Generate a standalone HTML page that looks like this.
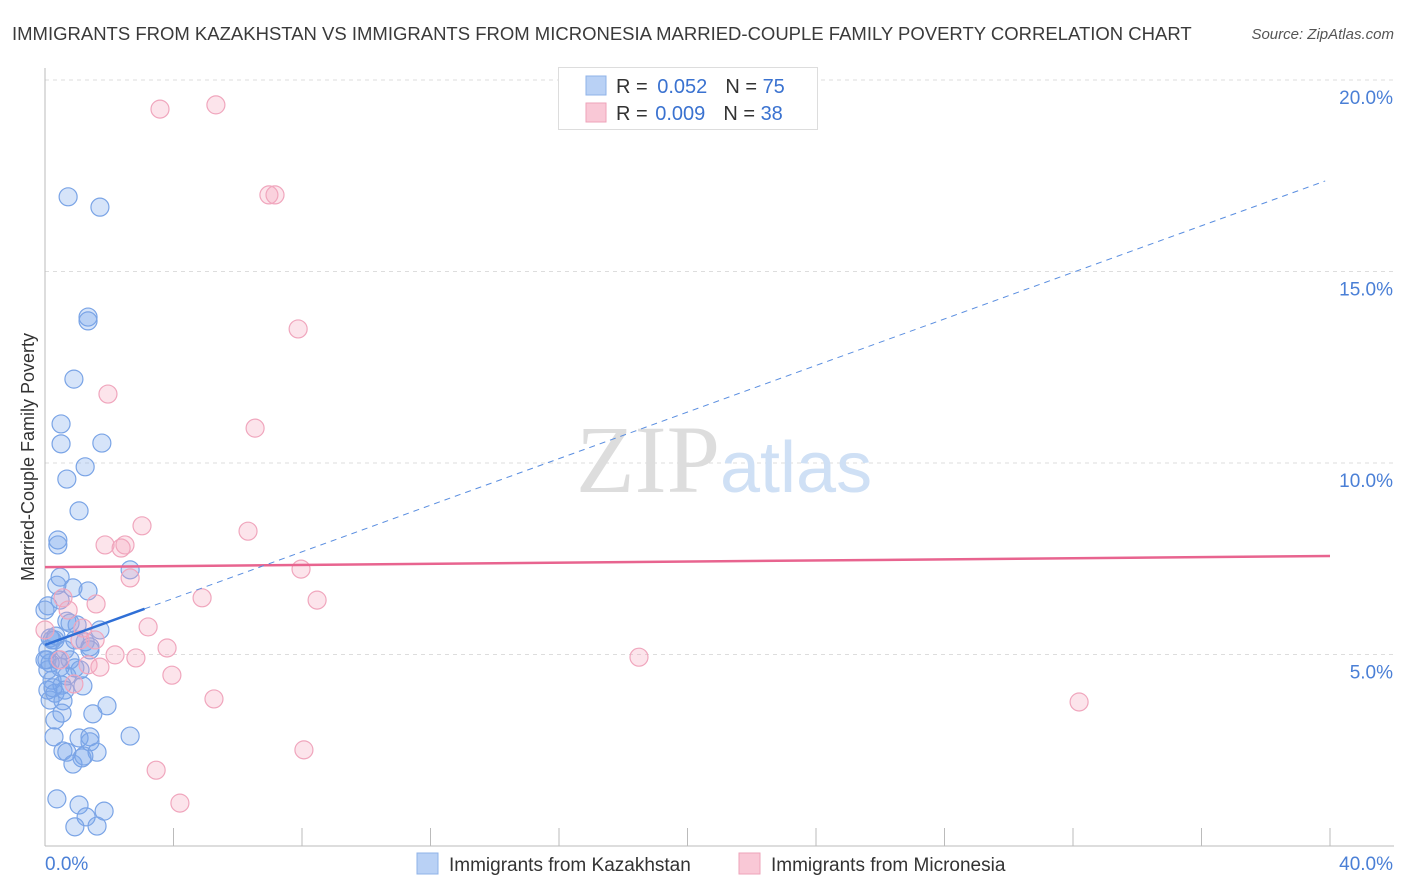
<!DOCTYPE html>
<html><head><meta charset="utf-8"><style>
body{margin:0;background:#fff;font-family:"Liberation Sans",sans-serif;}
#wrap{position:relative;width:1406px;height:892px;overflow:hidden;}
</style></head><body>
<div id="wrap">
<svg id="chart" width="1406" height="892" xmlns="http://www.w3.org/2000/svg">
<text x="12" y="40" font-size="18.5" fill="#3a3a3a">IMMIGRANTS FROM KAZAKHSTAN VS IMMIGRANTS FROM MICRONESIA MARRIED-COUPLE FAMILY POVERTY CORRELATION CHART</text>
<text x="1394" y="39" font-size="15" font-style="italic" fill="#555" text-anchor="end">Source: ZipAtlas.com</text>
<text x="0" y="0" transform="translate(34,457) rotate(-90)" font-size="18" fill="#333" text-anchor="middle">Married-Couple Family Poverty</text>
<g id="grid"></g>
<text x="720" y="492" font-size="96" font-family="Liberation Serif,serif" fill="#ddd" text-anchor="end">ZIP</text>
<text x="720" y="492" font-size="72" fill="#cfe0f5">atlas</text>
<g id="marks"></g>
<g>
<rect x="558.5" y="67.5" width="259" height="62" fill="#fff" stroke="#ddd"/>
<rect x="586" y="76" width="20" height="19" fill="#b9d1f5" stroke="#8fb3e8"/>
<rect x="586" y="103" width="20" height="19" fill="#f9c8d6" stroke="#eea3ba"/>
<text x="616" y="93" font-size="20" fill="#333">R = <tspan fill="#3a72d0" dx="4">0.052</tspan><tspan dx="18">N = </tspan><tspan fill="#3a72d0">75</tspan></text>
<text x="616" y="120" font-size="20" fill="#333">R = <tspan fill="#3a72d0" dx="2">0.009</tspan><tspan dx="18">N = </tspan><tspan fill="#3a72d0">38</tspan></text>
</g>
<g>
<rect x="417" y="853" width="21" height="21" fill="#b9d1f5" stroke="#8fb3e8"/>
<text x="449" y="871" font-size="19" fill="#333">Immigrants from Kazakhstan</text>
<rect x="739" y="853" width="21" height="21" fill="#f9c8d6" stroke="#eea3ba"/>
<text x="771" y="871" font-size="19" fill="#333">Immigrants from Micronesia</text>
</g>
</svg>
</div>
<script>
const blueX=[0.72,1.71,1.34,1.34,0.90,0.50,0.50,1.77,1.25,0.68,1.06,0.40,0.40,2.65,0.47,0.37,0.87,1.34,0.09,0.0,0.68,0.78,1.00,0.34,0.16,0.31,1.25,1.40,0.62,0.06,0.16,0.47,0.93,1.09,0.68,0.22,0.53,1.18,0.09,0.31,0.62,0.16,0.56,1.93,1.49,0.53,0.28,1.06,1.40,2.65,0.56,0.68,1.40,1.62,0.87,1.15,1.21,0.37,1.06,1.28,1.84,0.93,1.62,0.22,0.09,0.40,0.09,0.25,0.78,1.40,1.71,0.47,0.0,0.31,0.93];
const blueY=[16.95,16.68,13.81,13.71,12.19,11.02,10.50,10.52,9.90,9.58,8.75,7.99,7.86,7.21,7.02,6.81,6.74,6.66,6.27,6.16,5.87,5.82,5.77,5.48,5.43,5.38,5.33,5.20,5.12,4.86,4.78,4.67,4.65,4.60,4.44,4.33,4.20,4.18,4.07,3.99,4.07,3.81,3.79,3.66,3.45,3.47,2.85,2.82,2.85,2.87,2.48,2.45,2.72,2.45,2.14,2.30,2.35,1.23,1.07,0.76,0.91,0.50,0.52,5.38,5.12,4.86,4.60,4.13,4.86,5.12,5.64,6.42,4.86,3.29,5.38];
const pinkX=[3.58,5.32,6.97,7.16,7.88,1.96,6.54,3.02,6.32,1.87,2.49,2.37,2.65,7.97,0.56,1.59,4.89,8.47,3.21,0.0,1.18,3.80,2.18,2.83,18.49,1.34,1.71,0.90,3.95,5.26,32.19,8.06,3.46,4.20,1.09,0.47,1.56,0.72];
const pinkY=[19.24,19.35,17.00,17.00,13.50,11.80,10.91,8.36,8.22,7.86,7.86,7.78,7.00,7.23,6.48,6.32,6.48,6.42,5.72,5.64,5.69,5.17,4.99,4.91,4.93,4.73,4.67,4.23,4.46,3.84,3.76,2.51,1.98,1.12,5.38,4.86,5.38,6.16];
const blueTrend=[5.25,0.304];
const pinkTrend=[7.28,0.0073];
const yTicks=[5,10,15,20];
const yTickLabels=["5.0%","10.0%","15.0%","20.0%"];
const xTicks=[0,4,8,12,16,20,24,28,32,36,40];

const X0=45,X1=1330,Y0=846,PER=38.3;
const sx=v=>X0+(X1-X0)*v/40;
const sy=v=>Y0-v*PER;
const NS="http://www.w3.org/2000/svg";
function mk(tag,attrs,parent){const e=document.createElementNS(NS,tag);for(const k in attrs)e.setAttribute(k,attrs[k]);parent.appendChild(e);return e;}
const grid=document.getElementById('grid'),marks=document.getElementById('marks');

yTicks.forEach((t,i)=>{
  const l=mk('line',{x1:X0,x2:1394,y1:sy(t),y2:sy(t),stroke:'#ddd','stroke-dasharray':'4,4'},grid);
  
  
  const tx=mk('text',{x:1393,y:sy(t)+24,'font-size':19,fill:'#4a7fd6','text-anchor':'end'},grid);
  tx.textContent=yTickLabels[i];
  
  
});
const ax=mk('line',{x1:X0,x2:X0,y1:68,y2:Y0,stroke:'#bbb'},grid);


const bx=mk('line',{x1:X0,x2:1394,y1:Y0,y2:Y0,stroke:'#bbb'},grid);


xTicks.forEach(t=>{
  const l=mk('line',{x1:sx(t),x2:sx(t),y1:828,y2:Y0,stroke:'#bbb'},grid);
  
  
});
const xl0=mk('text',{x:45,y:870,'font-size':19,fill:'#4a7fd6'},grid);xl0.textContent='0.0%';


const xl1=mk('text',{x:1393,y:870,'font-size':19,fill:'#4a7fd6','text-anchor':'end'},grid);xl1.textContent='40.0%';



blueX.forEach((x,i)=>{
  const c=mk('circle',{cx:sx(x),cy:sy(blueY[i]),r:9,fill:'rgba(120,165,235,0.3)',stroke:'#7aa4e6','stroke-width':1.2},marks);
  
  
});
pinkX.forEach((x,i)=>{
  const c=mk('circle',{cx:sx(x),cy:sy(pinkY[i]),r:9,fill:'rgba(245,165,190,0.3)',stroke:'#f0a6bd','stroke-width':1.2},marks);
  
  
});
const pl=mk('line',{x1:sx(0),y1:sy(pinkTrend[0]),x2:sx(40),y2:sy(pinkTrend[0]+pinkTrend[1]*40),stroke:'#e8648f','stroke-width':2.5},marks);


const bs=mk('line',{x1:sx(0),y1:sy(blueTrend[0]),x2:sx(3.1),y2:sy(blueTrend[0]+blueTrend[1]*3.1),stroke:'#2f6fd6','stroke-width':2.5},marks);


const bd=mk('line',{x1:sx(3.1),y1:sy(blueTrend[0]+blueTrend[1]*3.1),x2:sx(39.85),y2:sy(blueTrend[0]+blueTrend[1]*39.85),stroke:'#5a8ee0','stroke-width':1,'stroke-dasharray':'6,5'},marks);


</script>
</body></html>
